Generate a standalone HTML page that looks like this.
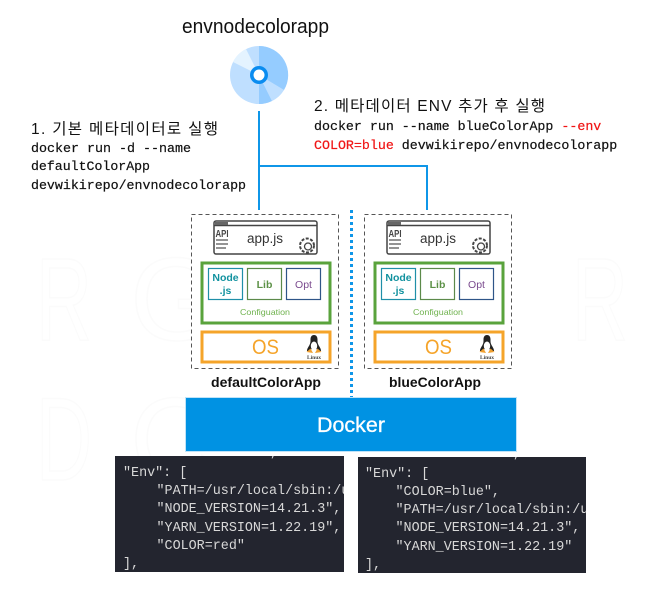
<!DOCTYPE html>
<html lang="ko"><head><meta charset="utf-8">
<style>
html,body{margin:0;padding:0;background:#fff}
svg{display:block}
.s{font-family:"Liberation Sans","Noto Sans CJK KR",sans-serif}
.m{font-family:"Liberation Mono","Noto Sans CJK KR",monospace}
</style></head><body>
<svg xmlns="http://www.w3.org/2000/svg" width="664" height="602" viewBox="0 0 664 602">
<defs>
<g id="unit">
  <rect x="191.5" y="214.5" width="147" height="154" fill="#fff" stroke="#555" stroke-width="1" stroke-dasharray="4 3"/>
  <rect x="214" y="221" width="103" height="33" rx="2" fill="#fff" stroke="#444" stroke-width="1.5"/>
  <line x1="214" y1="225.5" x2="317" y2="225.5" stroke="#444" stroke-width="1.5"/>
  <rect x="215" y="222" width="13" height="3" fill="#666"/>
  <text x="215.500" y="237" class="s" font-size="10" font-weight="700" fill="#444" textLength="13" lengthAdjust="spacingAndGlyphs">API</text>
  <path d="M216 240H228M216 244H228M216 248H226" stroke="#555" stroke-width="1.3" fill="none"/>
  <text x="247" y="243" class="s" font-size="13.500" fill="#333" textLength="36" lengthAdjust="spacingAndGlyphs">app.js</text>
  <circle cx="307" cy="245.500" r="7" fill="#fff" stroke="#444" stroke-width="2" stroke-dasharray="3 1.500"/>
  <circle cx="308" cy="246.500" r="3.500" fill="#fff" stroke="#444" stroke-width="1.300"/>
  <rect x="202" y="263" width="128" height="60" fill="#fff" stroke="#5aa33c" stroke-width="3"/>
  <rect x="208.500" y="268.500" width="34" height="31" fill="#fff" stroke="#1f8fa8" stroke-width="1.200"/>
  <text x="225.500" y="281" text-anchor="middle" class="s" font-size="10.500" font-weight="700" fill="#12929f">Node</text>
  <text x="225.500" y="294" text-anchor="middle" class="s" font-size="10.500" font-weight="700" fill="#12929f">.js</text>
  <rect x="247.500" y="268.500" width="34" height="31" fill="#fff" stroke="#5c8a4a" stroke-width="1.200"/>
  <text x="264.500" y="288" text-anchor="middle" class="s" font-size="10.500" font-weight="700" fill="#5c9146">Lib</text>
  <rect x="286.500" y="268.500" width="34" height="31" fill="#fff" stroke="#2e5588" stroke-width="1.200"/>
  <text x="303.500" y="288" text-anchor="middle" class="s" font-size="10.500" fill="#7a4a8e">Opt</text>
  <text x="240" y="315" class="s" font-size="8.500" fill="#6fb24e" textLength="50" lengthAdjust="spacingAndGlyphs">Configuation</text>
  <rect x="202" y="332" width="128" height="30" fill="#fff" stroke="#f5a42a" stroke-width="3"/>
  <text x="252" y="354" class="s" font-size="21" fill="#f5a42a" textLength="27" lengthAdjust="spacingAndGlyphs">OS</text>
  <path d="M314 335c-2.500 0-3.500 2-3.500 4.500c0 2.500 0 3.500-1 5.500c-1 2-2.500 3.500-2.500 6h3c1-2 2-2.500 4-2.500s3 .5 4 2.500h3c0-2.500-1.500-4-2.500-6s-1-3-1-5.500c0-2.500-1-4.500-3.500-4.500z" fill="#222"/>
  <ellipse cx="314" cy="346" rx="3.200" ry="4.500" fill="#fff"/>
  <path d="M306.500 352l4-3.500 2.500 4.500zM321.500 352l-4-3.500-2.500 4.500z" fill="#f0a030"/>
  <text x="314" y="359" text-anchor="middle" font-family="'Liberation Serif',serif" font-size="5.500" font-weight="700" fill="#444">Linux</text>
</g>
</defs>
<rect width="664" height="602" fill="#fff"/>
<g class="s" font-size="118" fill="none" stroke="#fbfbfb" stroke-width="1.500">
  <text x="36" y="340" textLength="56" lengthAdjust="spacingAndGlyphs">R</text><text x="130" y="340">G</text>
  <text x="572" y="340" textLength="56" lengthAdjust="spacingAndGlyphs">R</text>
  <text x="36" y="480" textLength="56" lengthAdjust="spacingAndGlyphs">D</text><text x="130" y="480">C</text>
</g>
<text x="182" y="33" class="s" font-size="20" fill="#111" textLength="147" lengthAdjust="spacingAndGlyphs">envnodecolorapp</text>
<circle cx="259" cy="75" r="29" fill="#bfdfff"/>
<path d="M259 46A29 29 0 0 1 284 90L259 75Z" fill="#95ccff"/>
<path d="M259 75L259 104A29 29 0 0 0 272 101Z" fill="#95ccff"/>
<path d="M259 75L272 101A29 29 0 0 0 284 90Z" fill="#bfdfff"/>
<path d="M259 75L233 62A29 29 0 0 1 246 49Z" fill="#e4f3ff"/>
<circle cx="259" cy="75" r="9" fill="#0a8cf0"/>
<circle cx="259" cy="75" r="5.500" fill="#fff"/>
<path d="M259 111V210M259 166H427V210" fill="none" stroke="#0f96e8" stroke-width="2"/>
<text x="31" y="134" class="s" font-size="15.500" fill="#111" textLength="187" lengthAdjust="spacing">1. 기본 메타데이터로 실행</text>
<g class="m" font-size="13.300" fill="#111" stroke="#111" stroke-width="0.200">
<text x="31" y="152" textLength="160" lengthAdjust="spacingAndGlyphs">docker run -d --name</text>
<text x="31" y="170" textLength="119" lengthAdjust="spacingAndGlyphs">defaultColorApp</text>
<text x="31" y="189" textLength="215" lengthAdjust="spacingAndGlyphs">devwikirepo/envnodecolorapp</text>
</g>
<text x="314" y="111" class="s" font-size="15.500" fill="#111" textLength="231" lengthAdjust="spacing">2. 메타데이터 ENV 추가 후 실행</text>
<g class="m" font-size="13.300" stroke-width="0.200">
<text x="314" y="130" fill="#111" stroke="#111">docker run --name blueColorApp <tspan fill="#f01515" stroke="#f01515">--env</tspan></text>
<text x="314" y="149" fill="#f01515" stroke="#f01515">COLOR=blue <tspan fill="#111" stroke="#111">devwikirepo/envnodecolorapp</tspan></text>
</g>
<use href="#unit"/>
<use href="#unit" x="173"/>
<line x1="351.500" y1="210" x2="351.500" y2="398" stroke="#0f96e8" stroke-width="3" stroke-dasharray="3 3"/>
<text x="211" y="387" class="s" font-size="14" font-weight="700" fill="#111" textLength="110" lengthAdjust="spacingAndGlyphs">defaultColorApp</text>
<text x="389" y="387" class="s" font-size="14" font-weight="700" fill="#111" textLength="92" lengthAdjust="spacingAndGlyphs">blueColorApp</text>
<rect x="185.500" y="397.500" width="331" height="54" fill="#0092e3" stroke="#bfe3f8" stroke-width="1"/>
<text x="317" y="432" class="s" font-size="21" fill="#fff" stroke="#fff" stroke-width="0.300" textLength="68" lengthAdjust="spacingAndGlyphs">Docker</text>
<svg x="115" y="456" width="229" height="116" viewBox="0 0 229 116">
<rect width="229" height="116" fill="#23252f"/>
<g class="m" font-size="13.400" fill="#d8d8d8">
<text x="155" y="0">,</text>
<text x="8" y="20">"Env": [</text>
<text x="41.500" y="38">"PATH=/usr/local/sbin:/u</text>
<text x="41.500" y="56">"NODE_VERSION=14.21.3",</text>
<text x="41.500" y="75">"YARN_VERSION=1.22.19",</text>
<text x="41.500" y="93">"COLOR=red"</text>
<text x="8" y="111">],</text>
</g>
</svg>
<svg x="358" y="457" width="228" height="116" viewBox="0 0 228 116">
<rect width="228" height="116" fill="#23252f"/>
<g class="m" font-size="13.400" fill="#d8d8d8">
<text x="155" y="0">,</text>
<text x="7" y="20">"Env": [</text>
<text x="37.500" y="38">"COLOR=blue",</text>
<text x="37.500" y="56">"PATH=/usr/local/sbin:/u</text>
<text x="37.500" y="74">"NODE_VERSION=14.21.3",</text>
<text x="37.500" y="93">"YARN_VERSION=1.22.19"</text>
<text x="7" y="111">],</text>
</g>
</svg>
</svg>
</body></html>
